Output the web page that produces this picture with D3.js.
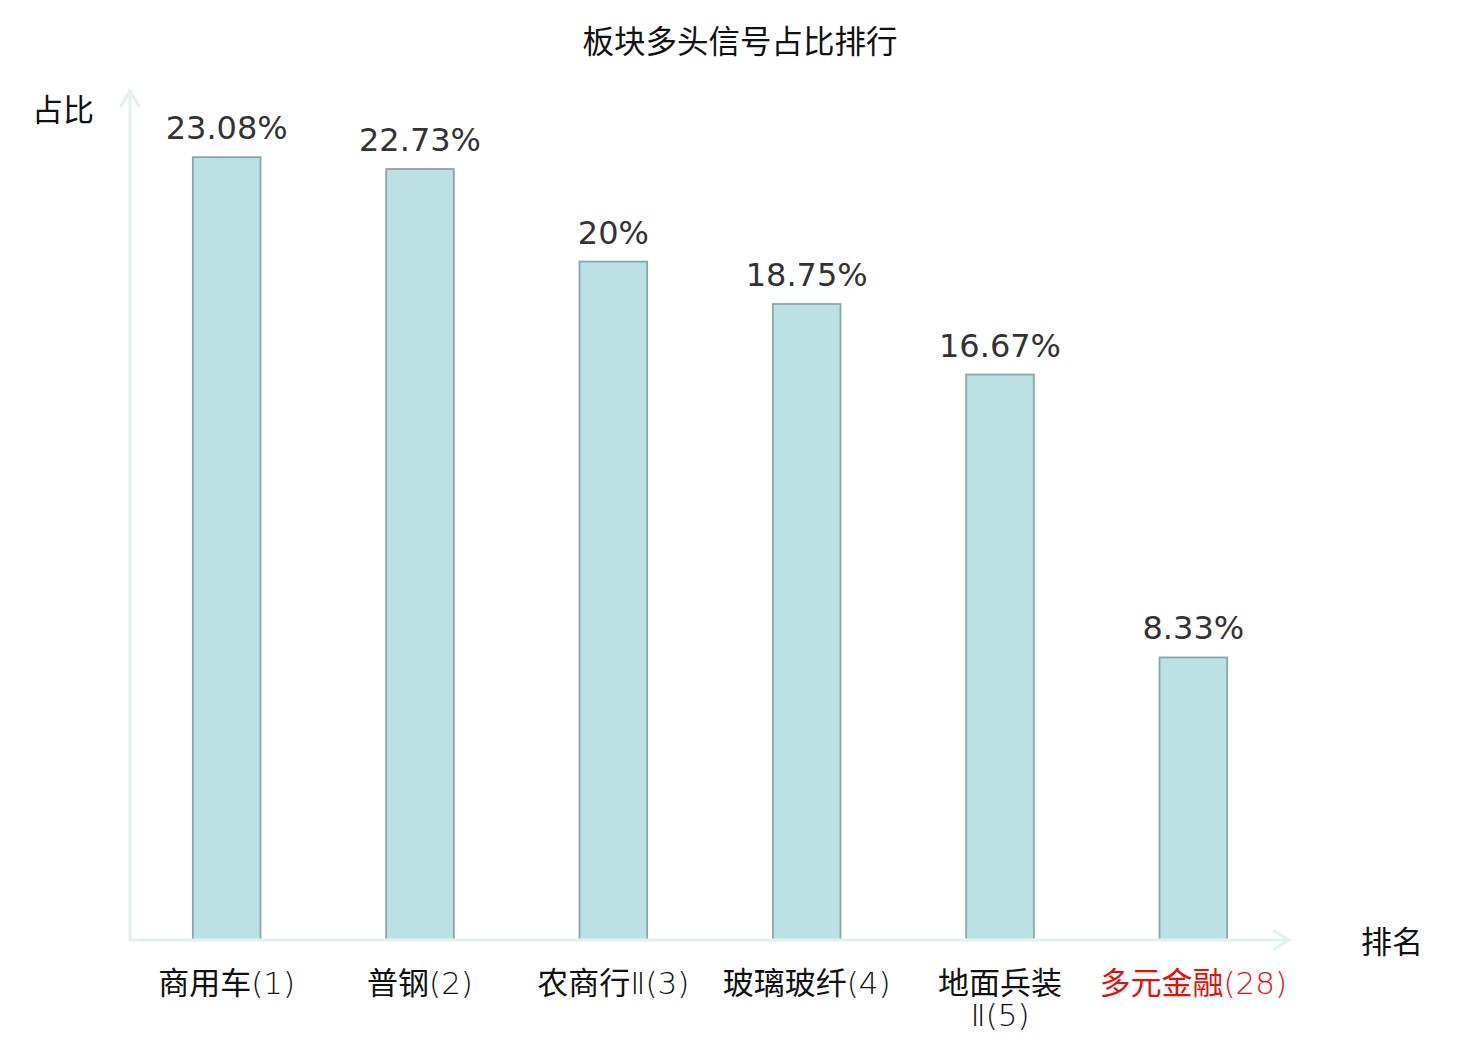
<!DOCTYPE html>
<html>
<head>
<meta charset="utf-8">
<script src="https://cdn.jsdelivr.net/npm/d3@7"></script>
<style>
  body { margin: 0; background: #fff; }
  svg { display: block; }
</style>
</head>
<body>
<div id="chart"></div>
<script>
// data
var sectors = ["商用车", "普钢", "农商行Ⅱ", "玻璃玻纤", "地面兵装Ⅱ", "多元金融"];
var ranks = [1, 2, 3, 4, 5, 28];
var ratios = [23.08, 22.73, 20, 18.75, 16.67, 8.33];
var highlight = [false, false, false, false, false, true];

var width = 1480, height = 1040;
var axis_color = "#dff2ef";
var cjk_font = "'Noto Sans CJK SC', sans-serif";
var num_font = "'DejaVu Sans', sans-serif";

var svg = d3.select("#chart").append("svg")
  .attr("width", width)
  .attr("height", height);

var x0 = 130, x1 = 1290, y0 = 940, y1 = 92;

var x = d3.scaleBand()
  .domain(d3.range(sectors.length))
  .range([x0, x1])
  .paddingInner(0.65)
  .paddingOuter(0.325);

var y = d3.scaleLinear()
  .domain([0, 25])
  .range([y0, y1]);

// title
svg.append("text")
  .text("板块多头信号占比排行")
  .attr("x", 740)
  .attr("y", 53)
  .attr("text-anchor", "middle")
  .style("font-family", cjk_font)
  .style("font-size", "31.5px")
  .style("fill", "#111");

// bars
svg.selectAll(".bar")
  .data(ratios)
  .enter().append("rect")
  .attr("class", "bar")
  .attr("x", (d, i) => x(i))
  .attr("y", d => y(d))
  .attr("width", x.bandwidth())
  .attr("height", d => y(0) - y(d))
  .style("fill", "#bce0e3")
  .style("stroke", "#88a8a8")
  .style("stroke-width", 1.8);

// value labels
svg.selectAll(".val")
  .data(ratios)
  .enter().append("text")
  .attr("class", "val")
  .text(d => d + "%")
  .attr("x", (d, i) => x(i) + x.bandwidth() / 2)
  .attr("y", d => y(d) - 18)
  .attr("text-anchor", "middle")
  .style("font-family", num_font)
  .style("font-size", "32px")
  .style("fill", "#333");

// axes with open arrow heads
var axis_g = svg.append("g")
  .style("stroke", axis_color)
  .style("stroke-width", 3)
  .style("fill", "none")
  .style("stroke-linecap", "round");

axis_g.append("line").attr("x1", x0).attr("y1", y0).attr("x2", x0).attr("y2", 90);
axis_g.append("path").attr("d", "M" + (x0 - 9) + ",106 L" + x0 + ",91 L" + (x0 + 9) + ",106");
axis_g.append("line").attr("x1", x0).attr("y1", y0).attr("x2", x1).attr("y2", y0);
axis_g.append("path").attr("d", "M" + (x1 - 16) + "," + (y0 - 9) + " L" + (x1 - 1) + "," + y0 + " L" + (x1 - 16) + "," + (y0 + 9));

// axis names
svg.append("text")
  .text("占比")
  .attr("x", 63)
  .attr("y", 121)
  .attr("text-anchor", "middle")
  .style("font-family", cjk_font)
  .style("font-size", "31px")
  .style("fill", "#111");

svg.append("text")
  .text("排名")
  .attr("x", 1392)
  .attr("y", 953)
  .attr("text-anchor", "middle")
  .style("font-family", cjk_font)
  .style("font-size", "31px")
  .style("fill", "#111");

// category labels: name in CJK font, rank in thin latin; long names put "Ⅱ(n)" on a 2nd line
var labels = svg.selectAll(".cat")
  .data(sectors)
  .enter().append("text")
  .attr("class", "cat")
  .attr("x", (d, i) => x(i) + x.bandwidth() / 2)
  .attr("y", 994)
  .attr("text-anchor", "middle")
  .style("font-family", cjk_font)
  .style("font-size", "31px")
  .style("fill", (d, i) => highlight[i] ? "#e3120b" : "#111");

labels.each(function (d, i) {
  var t = d3.select(this);
  var cx = x(i) + x.bandwidth() / 2;
  var parts = d.match(/^(.*?)(Ⅱ?)$/);
  var name = parts[1], tail = parts[2];
  t.append("tspan").text(name);
  var tail_span = t.append("tspan").text(tail + "(" + ranks[i] + ")")
    .style("font-family", num_font)
    .style("font-weight", 200);
  if (d.length > 4) {
    tail_span.attr("x", cx).attr("dy", 32);
  }
});
</script>
</body>
</html>
